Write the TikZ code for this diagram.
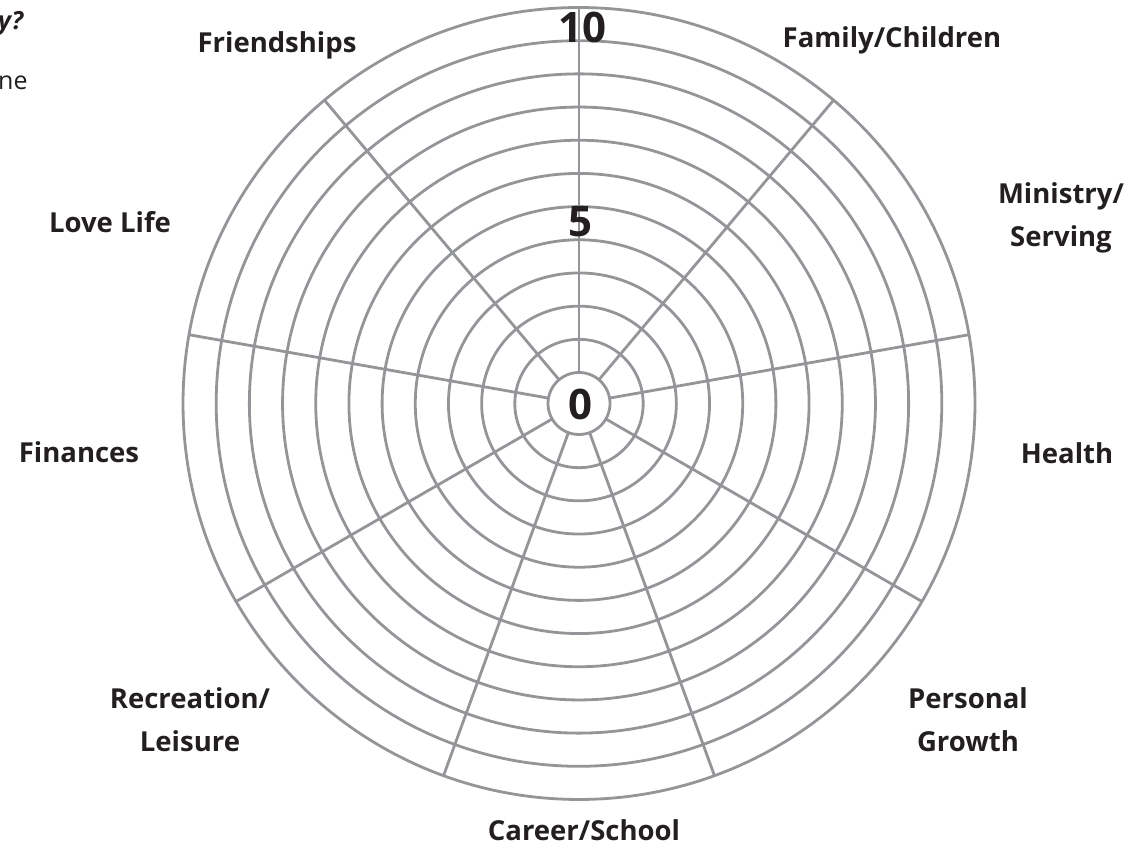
\documentclass[tikz,border=0pt]{standalone}
\usepackage{fontspec}
\setmainfont{Open Sans}
\definecolor{ring}{RGB}{147,149,152}
\definecolor{ink}{RGB}{35,31,32}
\begin{document}
\begin{tikzpicture}[x=1pt,y=1pt,
  ringline/.style={draw=ring,line width=2.8pt},
  lab/.style={font=\fontsize{27.5}{43}\selectfont\bfseries,text=ink,align=center,inner sep=0pt},
  num/.style={font=\fontsize{42}{42}\selectfont\bfseries,text=ink,inner sep=0pt},
  frag/.style={font=\fontsize{25}{30}\selectfont,text=ink,inner sep=0pt,anchor=west}]
\useasboundingbox (0,0) rectangle (1136,857);
\coordinate (c) at (579,453.5);
% rings
\foreach \k in {0,...,11}{
  \pgfmathsetmacro{\r}{31+33.18*\k}
  \draw[ringline] (c) circle[radius=\r pt];
}
% spokes
\foreach \a in {90,50,10,-30,-70,-110,-150,170,130}{
  \draw[ringline,shift={(c)}] (\a:31pt) -- (\a:396pt);
}
% scale numbers
\node[num] (n0) at (580,453) {0};
\node[num] (n5) at (580,635) {5};
\node[num] (n10) at (582,830) {10};
% category labels
\node[lab] (fr) at (277,812) {Friendships};
\node[lab] (fa) at (892,817) {Family/Children};
\node[lab] (mi) at (1061,639) {Ministry/\\Serving};
\node[lab] (he) at (1067,404) {Health};
\node[lab] (pg) at (968,137) {Personal\\Growth};
\node[lab] (ca) at (584,27) {Career/School};
\node[lab] (re) at (190,137) {Recreation/\\Leisure};
\node[lab] (fi) at (79,405) {Finances};
\node[lab] (lo) at (110,635) {Love Life};
% cut-off fragments at the left edge
\node[frag,font=\fontsize{25}{30}\selectfont\bfseries\itshape] (f1) at (-2,834) {y?};
\node[frag] (f2) at (-2,774) {ne};
\end{tikzpicture}
\end{document}
